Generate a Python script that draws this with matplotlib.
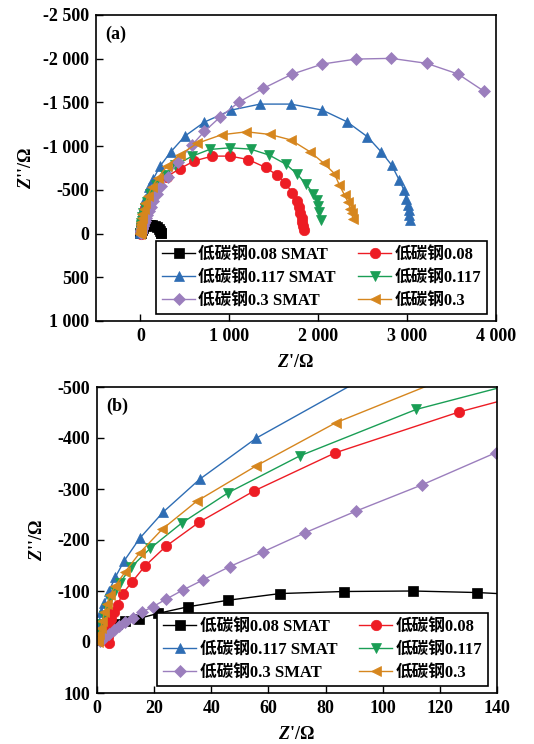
import matplotlib
matplotlib.use('Agg')
import matplotlib.pyplot as plt
from matplotlib.ticker import FuncFormatter

plt.rcParams['font.family'] = ['Liberation Serif', 'Noto Sans CJK SC', 'DejaVu Sans']
plt.rcParams['font.weight'] = 'bold'
plt.rcParams['mathtext.fontset'] = 'custom'
plt.rcParams['mathtext.it'] = 'Liberation Serif:italic:bold'
plt.rcParams['mathtext.rm'] = 'Liberation Serif:bold'
plt.rcParams['mathtext.bf'] = 'Liberation Serif:bold'

# ---------------- data (Z' , Z'' in Ohm) ----------------
labels = ['低碳钢0.08 SMAT', '低碳钢0.08', '低碳钢0.117 SMAT',
          '低碳钢0.117', '低碳钢0.3 SMAT', '低碳钢0.3']

black_x = [0.5, 1.5, 2.8, 4.5, 7.0, 9.9, 14.6, 21.3, 31.8, 46.0, 64.1, 86.3, 110.5, 133,
           165, 190, 210, 225, 233, 236]
black_y = [-3, -12, -22, -30, -35, -41, -46, -56, -69, -82, -95, -99, -100, -97,
           -88, -72, -50, -28, -12, -3]

red_x = [4.1, 3.8, 3.9, 4.4, 5.0, 5.9, 7.2, 9.0, 12.3, 16.8, 24.2, 35.8, 54.9, 83.4, 126.7,
         195, 298, 446, 608, 808, 1008, 1212, 1408, 1538, 1631, 1708, 1761, 1785, 1800,
         1812, 1823, 1831, 1842]
red_y = [1.3, -10, -20, -32, -45, -58, -73, -95, -118, -149, -188, -235, -296, -371, -451,
         -553, -652, -744, -832, -886, -886, -847, -756, -668, -576, -466, -370, -305, -237,
         -183, -134, -88, -38]

blue_x = [0.1, 0.2, 0.7, 1.4, 2.6, 4.2, 6.4, 9.5, 14.9, 23.2, 35.9, 55.8, 100, 145, 223,
          342, 500, 719, 1020, 1346, 1692, 2047, 2323, 2554, 2708, 2827, 2912, 2965, 2990,
          3008, 3017, 3026, 3035]
blue_y = [-8, -22, -38, -58, -77, -100, -127, -159, -203, -255, -319, -400, -538, -625, -775,
          -935, -1115, -1275, -1412, -1481, -1481, -1412, -1279, -1107, -935, -782, -611, -496,
          -401, -324, -267, -210, -152]

green_x = [0.2, 0.7, 1.4, 2.3, 3.5, 4.7, 6.2, 8.0, 12.0, 18.7, 29.6, 46, 71, 111.7, 178, 275,
           392, 584, 777, 1008, 1239, 1450, 1635, 1765, 1862, 1946, 1982, 1999, 2013, 2027]
green_y = [-5, -18, -35, -51, -67, -84, -100, -116, -147, -184, -233, -293, -365, -456, -553,
           -675, -782, -886, -962, -981, -966, -897, -794, -679, -566, -458, -381, -313, -247,
           -153]

purple_x = [1.2, 2.6, 4.1, 5.8, 7.8, 9.9, 12.5, 15.8, 19.5, 24.2, 30.1, 37.2, 46.5, 58.2, 72.7,
            90.8, 113.7, 139.5, 183, 234, 308, 421, 577, 719, 900, 1108, 1381, 1700, 2047,
            2424, 2823, 3220, 3573, 3862]
purple_y = [-2, -8.5, -15, -24, -31, -39, -48, -59, -69, -84, -102, -122, -148, -177, -214,
            -257, -308, -371, -450, -540, -650, -820, -1010, -1168, -1336, -1504, -1660, -1821,
            -1939, -1996, -2004, -1947, -1825, -1630]

orange_x = [0.2, 0.4, 0.8, 1.3, 1.9, 2.6, 3.5, 4.7, 6.4, 9.9, 15.0, 22.8, 34.9, 55.6, 83.6,
            127, 198, 301, 442, 635, 912, 1192, 1457, 1695, 1908, 2066, 2181, 2239, 2296,
            2335, 2362, 2378, 2390]
orange_y = [0, -6, -16, -28, -42, -58, -75, -93, -110, -138, -175, -221, -276, -345, -430,
            -528, -640, -775, -900, -1031, -1130, -1164, -1134, -1070, -935, -802, -687, -553,
            -439, -362, -286, -230, -172]

series_x = [black_x, red_x, blue_x, green_x, purple_x, orange_x]
series_y = [black_y, red_y, blue_y, green_y, purple_y, orange_y]
colors = ['#000000', '#ED1C24', '#2E6DB4', '#1A9E55', '#9B7EBD', '#D6861E']
markers = ['s', 'o', '^', 'v', 'D', '<']
msizes = [6.5, 7.5, 7.5, 7.5, 6, 7.5]

a_xticks = [0, 1000, 2000, 3000, 4000]
a_yticks = [-2500, -2000, -1500, -1000, -500, 0, 500, 1000]
b_xticks = [0, 20, 40, 60, 80, 100, 120, 140]
b_yticks = [-500, -400, -300, -200, -100, 0, 100]


def fmt(v, pos):
    iv = int(round(v))
    s = f"{abs(iv):,}".replace(',', ' ')
    return ('-' if iv < 0 else '') + s


fig = plt.figure(figsize=(5.34, 7.44), dpi=100)
axa = fig.add_axes([96 / 534, (744 - 321) / 744, 400 / 534, 306 / 744])
axb = fig.add_axes([97 / 534, (744 - 693) / 744, 400 / 534, 306 / 744])

for ax in (axa, axb):
    handles = []
    for x, y, c, m, ms, lab in zip(series_x, series_y, colors, markers, msizes, labels):
        h, = ax.plot(x, y, color=c, marker=m, ms=ms, lw=1.0, label=lab,
                     markeredgewidth=0.5)
        handles.append(h)
    for sp in ax.spines.values():
        sp.set_linewidth(1.2)
    ax.tick_params(direction='in', length=5, width=1.0, labelsize=13, pad=5)
    for t in ax.get_xticklabels() + ax.get_yticklabels():
        t.set_fontweight('bold')
    ax.yaxis.set_major_formatter(FuncFormatter(fmt))
    ax.xaxis.set_major_formatter(FuncFormatter(fmt))
    ax.set_xlabel(r"$\mathit{Z}$'/Ω", fontsize=13, fontweight='bold')
    ax.set_ylabel(r"$\mathit{Z}$''/Ω", fontsize=13, fontweight='bold')
    order = [0, 2, 4, 1, 3, 5]
    leg = ax.legend([handles[i] for i in order], [labels[i] for i in order],
                    ncol=2, loc='lower left', bbox_to_anchor=(0.15, 0.022, 0.8275, 0.222),
                    mode='expand', borderaxespad=0, fontsize=12, fancybox=False,
                    edgecolor='black', framealpha=1, handlelength=2.0,
                    handletextpad=0.2, labelspacing=0.4, borderpad=0.35)
    leg.get_frame().set_linewidth(1.2)
    for t in leg.get_texts():
        t.set_fontweight('bold')

axa.set_xlim(-500, 4000)
axa.set_ylim(1000, -2500)
axa.set_xticks(a_xticks)
axa.set_yticks(a_yticks)
axa.text(0.022, 0.936, '(a)', transform=axa.transAxes, fontsize=13,
         fontweight='bold', va='center', ha='left')
axa.xaxis.set_label_coords(0.4975, -0.108)
axa.yaxis.set_label_coords(-0.152, 0.5)

axb.set_xlim(0, 140)
axb.set_ylim(100, -500)
axb.set_xticks(b_xticks)
axb.set_yticks(b_yticks)
axb.text(0.022, 0.936, '(b)', transform=axb.transAxes, fontsize=13,
         fontweight='bold', va='center', ha='left')
axb.xaxis.set_label_coords(0.4975, -0.108)
axb.yaxis.set_label_coords(-0.128, 0.5)

fig.savefig('out.png', dpi=100)
